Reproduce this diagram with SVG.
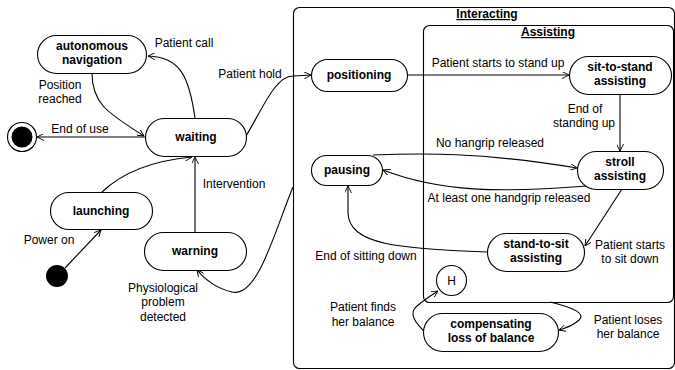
<svg xmlns="http://www.w3.org/2000/svg" width="675" height="370" viewBox="0 0 675 370">
<style>
text{font-family:"Liberation Sans",Arial,sans-serif;font-size:12px;fill:#000}
.b{font-weight:bold;text-anchor:middle}
.l{text-anchor:middle}
.t{font-weight:bold;text-anchor:middle;text-decoration:underline}
.n{fill:#fff;stroke:#000;stroke-width:1.1}
.c{fill:none;stroke:#000;stroke-width:1.1}
.e{fill:none;stroke:#000;stroke-width:1.1;marker-end:url(#a)}
</style>
<defs>
<marker id="a" viewBox="0 0 10 10" refX="10" refY="5" markerWidth="7" markerHeight="7" markerUnits="userSpaceOnUse" orient="auto">
<path d="M0,0 L10,5 L0,10" fill="none" stroke="#000" stroke-width="1.3"/>
</marker>
</defs>
<rect width="675" height="370" fill="#fff"/>
<g id="interacting">
<rect class="c" x="293.5" y="7.5" width="381" height="361" rx="6"/>
<text class="t" x="487" y="18">Interacting</text>
</g>
<g id="assisting">
<rect class="c" x="423.5" y="25.5" width="250" height="277" rx="6"/>
<text class="t" x="548" y="36">Assisting</text>
</g>
<g id="connectors">
<path class="e" d="M195,118 C189,76 180,57 148,56"/>
<path class="e" d="M92,73 C92,105 110,114 144,136"/>
<path class="e" d="M145,137 L37,137"/>
<path class="e" d="M246,136 C262,110 275,76 293,76 L311,75"/>
<path class="e" d="M102,192 C125,170 160,160 192,157"/>
<path class="e" d="M195,232 L195,157"/>
<path class="e" d="M65,268 L101,230"/>
<path class="e" d="M293,187 C275,230 258,298 232,292 C218,289 205,280 197,270"/>
<path class="e" d="M407,75 L569,75"/>
<path class="e" d="M620,94 L620,151"/>
<path class="e" d="M373,155 C420,153 480,152 577,168"/>
<path class="e" d="M587,186 C500,193 440,192 383,170"/>
<path class="e" d="M622,189 L585,246"/>
<path class="e" d="M487,252 C400,249 348,245 348,212 L348,186"/>
<path class="e" d="M550,302 C575,308 587,314 578,321 C572,326 566,328 559,330"/>
<path class="e" d="M427,334 C415,323 408,313 417,306 C424,300 430,296 438,291"/>
<text x="184" y="47" class="l">Patient call</text>
<text x="60" y="89" class="l">Position</text>
<text x="60" y="103" class="l">reached</text>
<text x="80" y="133" class="l">End of use</text>
<text x="250" y="78" class="l">Patient hold</text>
<text x="234" y="188" class="l">Intervention</text>
<text x="49" y="244" class="l">Power on</text>
<text x="163" y="292" class="l">Physiological</text>
<text x="163" y="306" class="l">problem</text>
<text x="163" y="321" class="l">detected</text>
<text x="498" y="67" class="l">Patient starts to stand up</text>
<text x="585" y="113" class="l">End of</text>
<text x="584" y="127" class="l">standing up</text>
<text x="490" y="147" class="l">No hangrip released</text>
<text x="509" y="202" class="l">At least one handgrip released</text>
<text x="366" y="260" class="l">End of sitting down</text>
<text x="630" y="249" class="l">Patient starts</text>
<text x="630" y="263" class="l">to sit down</text>
<text x="363" y="311" class="l">Patient finds</text>
<text x="363" y="326" class="l">her balance</text>
<text x="628" y="324" class="l">Patient loses</text>
<text x="628" y="338" class="l">her balance</text>
</g>
<g id="autonomous-navigation">
<rect class="n" x="37.5" y="35.5" width="109" height="38" rx="19"/>
<text class="b" x="92" y="50">autonomous</text>
<text class="b" x="92" y="64">navigation</text>
</g>
<g id="waiting">
<rect class="n" x="145.5" y="118.5" width="101" height="38" rx="19"/>
<text class="b" x="196" y="141">waiting</text>
</g>
<g id="final">
<circle cx="22" cy="137" r="14.5" fill="#fff" stroke="#000" stroke-width="1.1"/>
<circle cx="22" cy="137" r="10.5" fill="#000"/>
</g>
<g id="launching">
<rect class="n" x="50.5" y="192.5" width="102" height="37" rx="18.5"/>
<text class="b" x="101" y="215">launching</text>
</g>
<g id="initial">
<circle cx="57" cy="276" r="11" fill="#000"/>
</g>
<g id="warning">
<rect class="n" x="144.5" y="232.5" width="102" height="38" rx="19"/>
<text class="b" x="195" y="255">warning</text>
</g>
<g id="positioning">
<rect class="n" x="311.5" y="59.5" width="96" height="32" rx="16"/>
<text class="b" x="359" y="79">positioning</text>
</g>
<g id="sit-to-stand">
<rect class="n" x="569.5" y="56.5" width="102" height="38" rx="19"/>
<text class="b" x="620" y="71">sit-to-stand</text>
<text class="b" x="620" y="85">assisting</text>
</g>
<g id="pausing">
<rect class="n" x="311.5" y="155.5" width="71" height="30" rx="15"/>
<text class="b" x="347" y="174">pausing</text>
</g>
<g id="stroll">
<rect class="n" x="577.5" y="151.5" width="86" height="38" rx="19"/>
<text class="b" x="620" y="166">stroll</text>
<text class="b" x="620" y="180">assisting</text>
</g>
<g id="stand-to-sit">
<rect class="n" x="487.5" y="233.5" width="97" height="38" rx="19"/>
<text class="b" x="536" y="248">stand-to-sit</text>
<text class="b" x="536" y="262">assisting</text>
</g>
<g id="history">
<circle cx="451.5" cy="280.5" r="15" fill="#fff" stroke="#000" stroke-width="1.1"/>
<text class="l" x="451.5" y="285">H</text>
</g>
<g id="compensating">
<rect class="n" x="423.5" y="313.5" width="135" height="38" rx="19"/>
<text class="b" x="491" y="328">compensating</text>
<text class="b" x="491" y="342">loss of balance</text>
</g>
</svg>
